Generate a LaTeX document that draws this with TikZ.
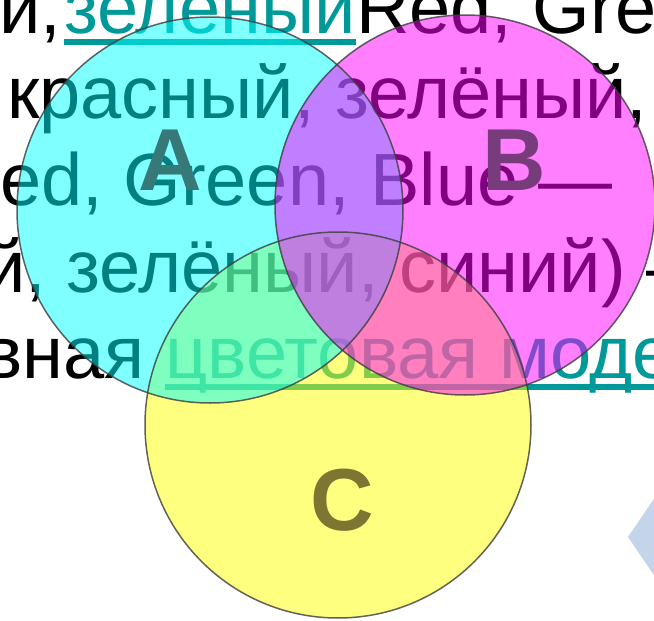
\documentclass[tikz,border=0pt]{standalone}
\usepackage{fontspec}
\setmainfont{Liberation Sans}
\usepackage{xcolor}
\usepackage{tikz}
\usetikzlibrary{calc, positioning}

\definecolor{linkteal}{RGB}{0,153,153}
\definecolor{rimgray}{RGB}{60,60,60}
\definecolor{discC}{RGB}{0,255,255}
\definecolor{discM}{RGB}{255,0,255}
\definecolor{discY}{RGB}{255,255,0}
\definecolor{letA}{RGB}{55,120,120}
\definecolor{letB}{RGB}{120,60,125}
\definecolor{letC}{RGB}{125,118,50}
\definecolor{chevron}{RGB}{196,212,235}

\tikzset{
    txt/.style={inner sep=0pt, anchor=base west, font=\fontsize{74}{80}\selectfont},
    lnk/.style={txt, text=linkteal},
    uline/.style={linkteal, line width=5.5pt},
    disc/.style={fill opacity=0.5},
    rim/.style={draw=rimgray, draw opacity=0.8, line width=1.5pt},
    tag/.style={inner sep=0pt, font=\fontsize{88}{88}\selectfont\bfseries}
}

\begin{document}
\begin{tikzpicture}[x=1pt, y=-1pt]
    \useasboundingbox (0,0) rectangle (654,621);
    \clip (0,0) rectangle (654,621);
    \fill[white] (0,0) rectangle (654,621);

    % Chữ nền
    \node[txt] (l1a) at (-1,33) {и,};
    \node[lnk] (l1b) at (64,33) {зеленый};
    \node[txt] (l1c) at (l1b.base east) {Red, Gre};
    \node[txt] (l2) at (7,118) {красный, зелёный,};
    \node[txt] (l3) at (0,205) {ed, Green, Blue —};
    \node[txt] (l4) at (-16,292) {й, зелёный, синий) —};
    \node[txt] (l5a) at (-17,378) {вная};
    \node[lnk] (l5b) at (165,378) {цветовая моде};

    % Gạch chân liên kết
    \draw[uline] ([yshift=-9pt]l1b.base west) -- ([yshift=-9pt]l1b.base east);
    \draw[uline] ([yshift=-9pt]l5b.base west) -- ([yshift=-9pt]l5b.base east);

    % Ba hình tròn
    \fill[discY, disc] (338,425) circle (193pt);
    \fill[discC, disc] (210,210) circle (193pt);
    \fill[discM, disc] (465,205) circle (190pt);
    \draw[rim] (338,425) circle (193pt);
    \draw[rim] (210,210) circle (193pt);
    \draw[rim] (465,205) circle (190pt);

    % Nhãn
    \node[tag, text=letA] (A) at (170,160) {A};
    \node[tag, text=letB] (B) at (514,160) {B};
    \node[tag, text=letC] (C) at (342,500) {C};

    % Hình thoi góc dưới
    \fill[chevron] (628,537) -- (660,490) -- (660,584) -- cycle;
\end{tikzpicture}
\end{document}
